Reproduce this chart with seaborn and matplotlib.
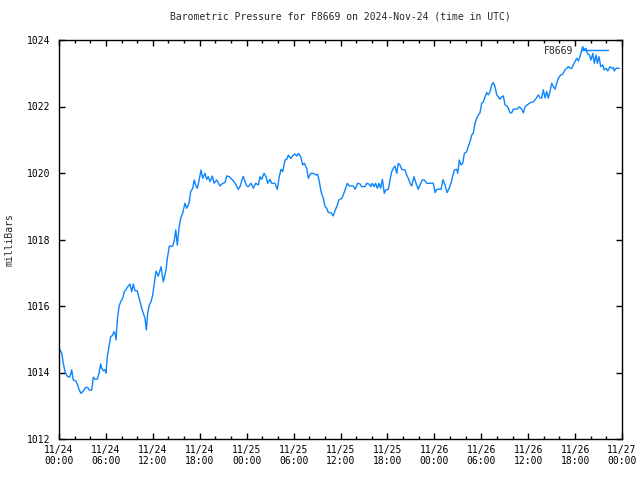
import numpy as np
import pandas as pd
import matplotlib
matplotlib.use("Agg")
import matplotlib.pyplot as plt
import matplotlib.dates as mdates
import seaborn as sns

title = "Barometric Pressure for F8669 on 2024-Nov-24 (time in UTC)"
station = "F8669"
y_label = "milliBars"
start = "2024-11-24 00:00"

hours = [
    0.13, 0.35, 0.55, 0.77, 1.11, 1.41, 1.62, 1.83, 2.14, 2.39, 2.56, 2.81, 3.11, 3.41, 3.67, 3.88,
    4.18, 4.39, 4.60, 4.90, 5.12, 5.33, 5.46, 5.67, 5.88, 6.01, 6.18, 6.39, 6.61, 6.82, 7.03, 7.16,
    7.29, 7.46, 7.67, 7.89, 8.15, 8.35, 8.57, 8.86, 9.08, 9.30, 9.50, 9.72, 10.01, 10.14, 10.36,
    10.58, 10.78, 11.00, 11.17, 11.34, 11.55, 11.77, 11.98, 12.19, 12.41, 12.70, 13.05, 13.34,
    13.68, 13.85, 14.11, 14.54, 14.75, 14.93, 15.13, 15.35, 15.56, 15.82, 16.11, 16.33, 16.63,
    16.84, 17.10, 17.30, 17.48, 17.69, 17.94, 18.16, 18.38, 18.67, 18.89, 19.09, 19.31, 19.61,
    19.82, 20.17, 20.59, 20.94, 21.23, 21.45, 21.78, 22.09, 22.38, 22.64, 22.93, 23.15, 23.37,
    23.57, 23.79, 24.01, 24.21, 24.56, 24.85, 25.16, 25.49, 25.71, 25.92, 26.22, 26.47, 26.69,
    26.99, 27.20, 27.62, 27.92, 28.17, 28.39, 28.61, 28.90, 29.12, 29.33, 29.63, 29.97, 30.18,
    30.40, 30.61, 30.91, 31.17, 31.37, 31.68, 31.88, 32.19, 32.52, 32.87, 33.09, 33.29, 33.51,
    33.80, 34.02, 34.24, 34.44, 34.75, 35.08, 35.30, 35.52, 35.81, 36.16, 36.36, 36.58, 36.87,
    37.13, 37.64, 37.86, 38.20, 38.50, 38.71, 39.14, 39.35, 39.69, 39.86, 40.07, 40.29, 40.50,
    40.71, 40.93, 41.14, 41.35, 41.60, 41.78, 42.12, 42.33, 42.55, 42.75, 42.97, 43.19, 43.39,
    43.61, 43.83, 44.25, 44.47, 44.67, 44.89, 45.11, 45.40, 45.66, 45.95, 46.17, 46.46, 46.72,
    47.03, 47.87, 48.09, 48.31, 48.86, 49.11, 49.37, 49.62, 49.90, 50.13, 50.35, 50.56, 50.86,
    50.99, 51.20, 51.41, 51.63, 51.84, 52.14, 52.35, 52.56, 52.78, 52.99, 53.20, 53.42, 53.63,
    53.84, 54.06, 54.27, 54.48, 54.70, 54.90, 55.12, 55.34, 55.54, 55.76, 55.98, 56.18, 56.40,
    56.62, 56.82, 57.04, 57.26, 57.46, 57.68, 57.90, 58.10, 58.54, 58.87, 59.18, 59.38, 59.60,
    59.89, 60.24, 60.66, 61.07, 61.30, 61.52, 61.73, 61.94, 62.16, 62.37, 62.58, 62.79, 63.01,
    63.22, 63.43, 63.65, 63.86, 64.16, 64.42, 64.71, 64.93, 65.14, 65.35, 65.57, 65.77, 65.99,
    66.21, 66.42, 66.63, 66.85, 66.98, 67.14, 67.40, 67.57, 67.82, 68.04, 68.26, 68.46, 68.68,
    68.85, 69.06, 69.28, 69.54, 69.70, 69.96, 70.17, 70.47, 70.68, 70.89, 71.01, 71.24, 71.66,
]

pressure = [
    1014.68, 1014.58, 1014.28, 1014.02, 1013.87, 1013.87, 1014.08, 1013.77, 1013.75, 1013.62,
    1013.49, 1013.37, 1013.45, 1013.55, 1013.55, 1013.47, 1013.47, 1013.86, 1013.80, 1013.80,
    1013.98, 1014.26, 1014.13, 1014.05, 1014.08, 1013.98, 1014.48, 1014.78, 1015.08, 1015.11,
    1015.23, 1015.18, 1014.98, 1015.58, 1015.98, 1016.13, 1016.23, 1016.43, 1016.50, 1016.60,
    1016.66, 1016.43, 1016.66, 1016.46, 1016.46, 1016.33, 1016.13, 1015.93, 1015.78, 1015.63,
    1015.28, 1015.78, 1016.03, 1016.13, 1016.33, 1016.68, 1017.05, 1016.90, 1017.18, 1016.73,
    1017.08, 1017.43, 1017.80, 1017.80, 1017.98, 1018.29, 1017.83, 1018.34, 1018.64, 1018.79,
    1019.09, 1018.94, 1019.09, 1019.44, 1019.54, 1019.79, 1019.64, 1019.54, 1019.81, 1020.09,
    1019.84, 1019.99, 1019.81, 1019.89, 1019.74, 1019.91, 1019.69, 1019.79, 1019.61, 1019.69,
    1019.71, 1019.91, 1019.89, 1019.81, 1019.74, 1019.64, 1019.51, 1019.59, 1019.77, 1019.90,
    1019.74, 1019.61, 1019.59, 1019.69, 1019.54, 1019.69, 1019.64, 1019.89, 1019.81, 1019.99,
    1019.89, 1019.69, 1019.81, 1019.69, 1019.69, 1019.51, 1019.89, 1020.11, 1020.04, 1020.39,
    1020.41, 1020.54, 1020.44, 1020.54, 1020.57, 1020.51, 1020.59, 1020.49, 1020.24, 1020.29,
    1020.14, 1019.84, 1019.99, 1019.99, 1019.94, 1019.96, 1019.74, 1019.44, 1019.24, 1018.99,
    1018.94, 1018.81, 1018.81, 1018.71, 1018.87, 1018.99, 1019.19, 1019.24, 1019.34, 1019.49,
    1019.69, 1019.61, 1019.61, 1019.51, 1019.69, 1019.67, 1019.59, 1019.59, 1019.69, 1019.66,
    1019.59, 1019.69, 1019.59, 1019.69, 1019.54, 1019.69, 1019.54, 1019.81, 1019.39, 1019.49,
    1019.51, 1019.79, 1020.04, 1020.14, 1020.21, 1019.99, 1020.29, 1020.24, 1020.11, 1020.09,
    1019.94, 1019.84, 1019.69, 1019.61, 1019.89, 1019.69, 1019.51, 1019.64, 1019.79, 1019.79,
    1019.69, 1019.69, 1019.41, 1019.51, 1019.51, 1019.80, 1019.64, 1019.41, 1019.54, 1019.69,
    1019.91, 1020.09, 1020.11, 1019.99, 1020.39, 1020.24, 1020.29, 1020.59, 1020.64, 1020.81,
    1020.94, 1021.14, 1021.21, 1021.49, 1021.65, 1021.74, 1021.81, 1022.10, 1022.14, 1022.29,
    1022.42, 1022.35, 1022.45, 1022.65, 1022.72, 1022.60, 1022.35, 1022.29, 1022.22, 1022.29,
    1022.32, 1022.05, 1022.02, 1021.95, 1021.81, 1021.81, 1021.92, 1021.92, 1021.99, 1021.92,
    1021.81, 1021.99, 1022.05, 1022.11, 1022.14, 1022.26, 1022.35, 1022.26, 1022.25, 1022.50,
    1022.26, 1022.45, 1022.25, 1022.45, 1022.70, 1022.60, 1022.52, 1022.70, 1022.85, 1022.95,
    1022.97, 1023.10, 1023.15, 1023.20, 1023.15, 1023.15, 1023.25, 1023.35, 1023.45, 1023.37,
    1023.50, 1023.70, 1023.80, 1023.70, 1023.75, 1023.60, 1023.55, 1023.40, 1023.60, 1023.30,
    1023.55, 1023.30, 1023.50, 1023.20, 1023.25, 1023.10, 1023.15, 1023.07, 1023.20, 1023.15,
    1023.17, 1023.07, 1023.15, 1023.15,
]

y_ticks = [1012, 1014, 1016, 1018, 1020, 1022, 1024]

sns.set_style("ticks")
plt.rcParams["font.family"] = ["DejaVu Sans Mono"]
plt.rcParams["font.size"] = 7

times = pd.Timestamp(start) + pd.to_timedelta(hours, unit="h")
df = pd.DataFrame({"time": times, "pressure": pressure})

fig = plt.figure(figsize=(6.4, 4.8), dpi=100)
ax = fig.add_axes([59 / 640, 41 / 480, 563 / 640, 399 / 480])

sns.lineplot(data=df, x="time", y="pressure", ax=ax, color="#0a84ff",
             linewidth=1.0, label=station)

ax.set_xlim(pd.Timestamp("2024-11-24"), pd.Timestamp("2024-11-27"))
ax.set_ylim(1012, 1024)
ax.set_yticks(y_ticks)
ax.xaxis.set_major_locator(mdates.HourLocator(byhour=[0, 6, 12, 18]))
ax.xaxis.set_minor_locator(mdates.HourLocator(byhour=range(0, 24, 2)))
ax.xaxis.set_major_formatter(mdates.DateFormatter("%m/%d\n%H:%M"))

ax.tick_params(which="both", direction="in", top=True, right=True,
               labelsize=7, colors="black", width=1)
ax.tick_params(which="major", length=4, pad=4)
ax.tick_params(which="minor", length=2)
ax.tick_params(axis="y", pad=6)
for s in ax.spines.values():
    s.set_visible(True)
    s.set_color("black")
    s.set_linewidth(1)

ax.set_xlabel("")
ax.set_ylabel(y_label, fontsize=7, labelpad=9)
ax.set_title(title, fontsize=7, pad=15)

leg = ax.legend(loc="upper right", frameon=False, markerfirst=False,
                handlelength=2.8, fontsize=7, borderaxespad=0.2,
                bbox_to_anchor=(0.986, 1.0), handletextpad=0.8)

fig.savefig("out.png", dpi=100, facecolor="white")
